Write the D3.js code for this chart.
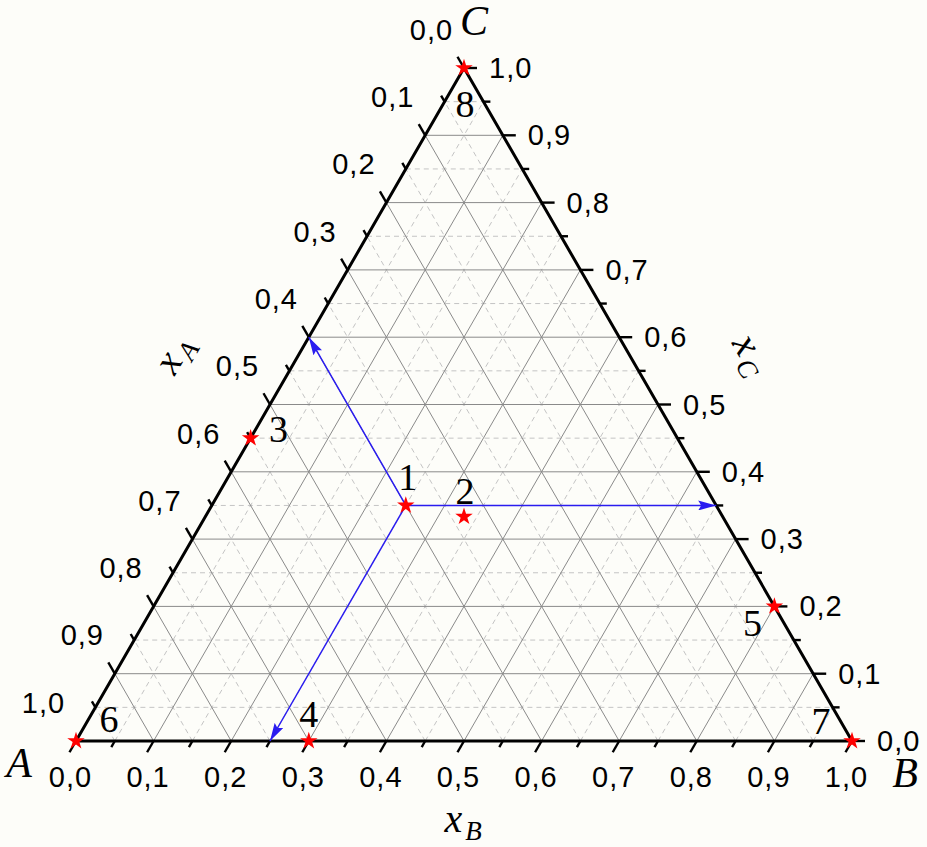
<!DOCTYPE html>
<html><head><meta charset="utf-8">
<script src="https://cdn.jsdelivr.net/npm/d3@7/dist/d3.min.js"></script>
<style>body{margin:0;background:#fdfdf9;}svg{display:block;}</style>
</head><body>
<svg id="c" width="927" height="847"></svg>
<script>
// ---- data ----
const vertexNames = ["A", "B", "C"];
const pointLabels = ["1", "2", "3", "4", "5", "6", "7", "8"];
const xAvals = [0.40, 1/3, 0.55, 0.70, 0.00, 1.00, 0.00, 0.00];
const xBvals = [0.25, 1/3, 0.00, 0.30, 0.80, 0.00, 1.00, 0.00];
const xCvals = [0.35, 1/3, 0.45, 0.00, 0.20, 0.00, 0.00, 1.00];
const tickValues = [0, 0.1, 0.2, 0.3, 0.4, 0.5, 0.6, 0.7, 0.8, 0.9, 1.0];
const tickLabels = ["0,0","0,1","0,2","0,3","0,4","0,5","0,6","0,7","0,8","0,9","1,0"];
const minorValues = [0.05,0.15,0.25,0.35,0.45,0.55,0.65,0.75,0.85,0.95];
const axisTitles = ["A", "B", "C"]; // x_A, x_B, x_C

const svg = d3.select("#c");
const H = Math.sqrt(3) / 2;
const sx = d3.scaleLinear().domain([0, 1]).range([76, 852]);
const sy = d3.scaleLinear().domain([0, H]).range([741, 68]);
function P(b, c) { return [sx(b + c / 2), sy(c * H)]; }

const g = svg.append("g");

// grid
const gridG = g.append("g");
function gridLine(v, solid) {
  const segs = [
    [P(0, v), P(1 - v, v)],          // constant xC
    [P(v, 0), P(v, 1 - v)],          // constant xB
    [P(1 - v, 0), P(0, 1 - v)]       // constant xA
  ];
  segs.forEach(s => {
    gridG.append("line")
      .attr("x1", s[0][0]).attr("y1", s[0][1]).attr("x2", s[1][0]).attr("y2", s[1][1])
      .attr("stroke", solid ? "#8a8a8a" : "#c4c4c4")
      .attr("stroke-width", 1)
      .attr("stroke-dasharray", solid ? null : "5,4");
  });
}
minorValues.forEach(v => gridLine(v, false));
tickValues.filter(v => v > 0 && v < 1).forEach(v => gridLine(v, true));

// ticks
const tickG = g.append("g").attr("stroke", "#000").attr("stroke-width", 2.4);
const dirBottom = [-0.5, 0.866], dirLeft = [-0.5, -0.866], dirRight = [1, 0];
function tick(p, d, len) {
  tickG.append("line").attr("x1", p[0]).attr("y1", p[1])
    .attr("x2", p[0] + d[0] * len).attr("y2", p[1] + d[1] * len);
}
const MAJ = 13, MIN = 7;
tickValues.forEach((v, i) => {
  tick(P(v, 0), dirBottom, MAJ);
  if (v < 1) tick(P(0, 1 - v), dirLeft, MAJ);
  tick(P(1 - v, v), dirRight, MAJ);
});
minorValues.forEach(v => {
  tick(P(v, 0), dirBottom, MIN);
  tick(P(0, 1 - v), dirLeft, MIN);
  tick(P(1 - v, v), dirRight, MIN);
});

// triangle outline
const tri = [P(0, 0), P(1, 0), P(0, 1)];
g.append("path").attr("d", "M" + tri.map(p => p.join(",")).join("L") + "Z")
  .attr("fill", "none").attr("stroke", "#000").attr("stroke-width", 3)
  .attr("stroke-linejoin", "miter");

// tick labels
const labG = g.append("g").attr("font-family", "Liberation Sans, Arial, sans-serif")
  .attr("font-size", 29).attr("letter-spacing", 1).attr("fill", "#000");
tickValues.forEach((v, i) => {
  const pb = P(v, 0);
  labG.append("text").attr("x", pb[0] + dirBottom[0] * MAJ + 1).attr("y", pb[1] + 46)
    .attr("text-anchor", "middle").text(tickLabels[i]);
  const pl = P(0, 1 - v);
  labG.append("text").attr("x", pl[0] + dirLeft[0] * MAJ - 26).attr("y", pl[1] + dirLeft[1] * MAJ - 27)
    .attr("text-anchor", "middle").attr("dominant-baseline", "central").text(tickLabels[i]);
  const pr = P(1 - v, v);
  labG.append("text").attr("x", pr[0] + MAJ + 12).attr("y", pr[1])
    .attr("text-anchor", "start").attr("dominant-baseline", "central").text(tickLabels[i]);
});

// vertex names
const serifIt = "Liberation Serif, Times New Roman, serif";
const vOff = [[-57, 36], [53, 46], [10, -33]];
tri.forEach((p, i) => {
  g.append("text").attr("x", p[0] + vOff[i][0]).attr("y", p[1] + vOff[i][1])
    .attr("text-anchor", "middle").attr("font-family", serifIt).attr("font-style", "italic")
    .attr("font-size", 42).text(vertexNames[i]);
});

// axis titles
function axisTitle(x, y, rot, sub) {
  const t = g.append("text").attr("transform", `translate(${x},${y}) rotate(${rot})`)
    .attr("text-anchor", "middle").attr("font-family", serifIt).attr("font-style", "italic")
    .attr("font-size", 40);
  t.append("tspan").text("x");
  t.append("tspan").attr("font-size", 27).attr("dx", 3).attr("dy", 8).text(sub);
}
axisTitle(463, 832, 0, axisTitles[1]);
axisTitle(184, 360, -60, axisTitles[0]);
axisTitle(741, 360, 60, axisTitles[2]);

// arrows from point 1
const defs = svg.append("defs");
defs.append("marker").attr("id", "ah").attr("viewBox", "0 0 18 10").attr("refX", 18).attr("refY", 5)
  .attr("markerWidth", 18).attr("markerHeight", 10).attr("markerUnits", "userSpaceOnUse")
  .attr("orient", "auto")
  .append("path").attr("d", "M0,0L18,5L0,10L3,5Z").attr("fill", "#2a1cf0");
const a = xAvals[0], b = xBvals[0], c = xCvals[0];
const start = P(b, c);
const ends = [P(0, 1 - a), P(b, 0), P(1 - c, c)];
ends.forEach(e => {
  g.append("line").attr("x1", start[0]).attr("y1", start[1]).attr("x2", e[0]).attr("y2", e[1])
    .attr("stroke", "#2a1cf0").attr("stroke-width", 1.5).attr("marker-end", "url(#ah)");
});

// points
const star = d3.symbol().type(d3.symbolStar).size(95);
const lOff = [[2, -15], [1, -13], [28, 4], [0, -14], [-22, 30], [33, -9], [-31, -7], [1, 49]];
pointLabels.forEach((lab, i) => {
  const p = P(xBvals[i], xCvals[i]);
  g.append("path").attr("d", star()).attr("transform", `translate(${p[0]},${p[1]})`)
    .attr("fill", "#ff0000");
  g.append("text").attr("x", p[0] + lOff[i][0]).attr("y", p[1] + lOff[i][1])
    .attr("text-anchor", "middle").attr("font-family", "Liberation Serif, Times New Roman, serif")
    .attr("font-size", 38).text(lab);
});
</script>
</body></html>
